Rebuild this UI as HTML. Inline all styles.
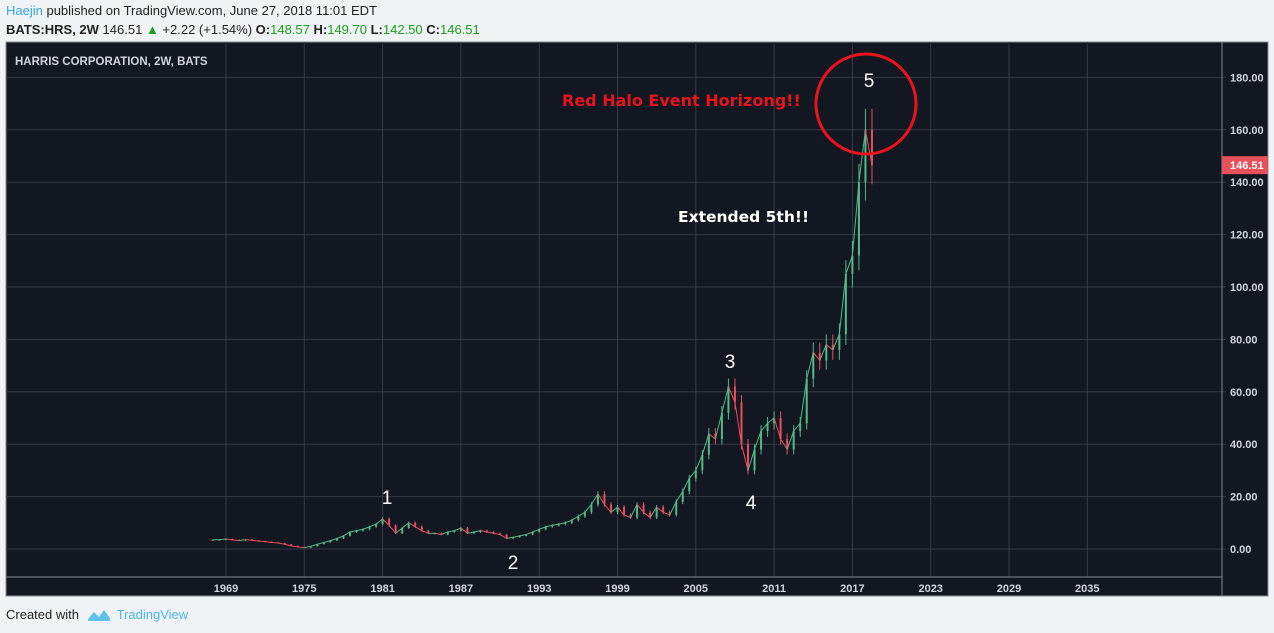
<!DOCTYPE html>
<html><head><meta charset="utf-8"><style>
body{margin:0;width:1274px;height:633px;background:#f0f3f6;font-family:"Liberation Sans",sans-serif;overflow:hidden;position:relative}
.t{position:absolute;white-space:nowrap}
</style></head><body>
<div class="t" style="left:6px;top:3px;font-size:13px;color:#222"><span style="color:#3ba4e0">Haejin</span> published on TradingView.com, June 27, 2018 11:01 EDT</div>
<div class="t" style="left:6px;top:22px;font-size:13px;color:#222"><b>BATS:HRS, 2W</b> 146.51 <span style="color:#19a019">▲</span> +2.22 (+1.54%) <b>O:</b><span style="color:#19a019">148.57</span> <b>H:</b><span style="color:#19a019">149.70</span> <b>L:</b><span style="color:#19a019">142.50</span> <b>C:</b><span style="color:#19a019">146.51</span></div>
<svg id="c" style="position:absolute;left:0;top:0" width="1274" height="633"></svg>
<div class="t" style="left:6px;top:607px;font-size:13px;color:#222">Created with <span style="color:#4fb3e0;margin-left:34px">TradingView</span></div>
<svg style="position:absolute;left:87px;top:606px" width="24" height="16"><path d="M1 13 L7 6 L12 11 L17 4 L23 12 L23 15 L1 15Z" fill="#5fc0ea"/></svg>
<script>
const years=[1969,1975,1981,1987,1993,1999,2005,2011,2017,2023,2029,2035];
const priceTicks=[0,20,40,60,80,100,120,140,160,180];
const times=[];for(let y=1968;y<=2018;y++){times.push(y);times.push(y+0.5);}
const closes=[3.5,3.6,3.8,3.5,3.2,3.6,3.3,3.0,2.8,2.5,2.3,1.8,1.2,0.8,0.5,1.0,1.8,2.5,3.2,4.0,5,6.5,7,7.5,8.5,9.5,11.5,9,6,8,10,8.5,7,6,6,5.5,6.5,7,8,6,6.5,7,6.5,6,5.5,4,4.5,5,5.5,6.5,7.5,8.5,9,9.5,10,11,12.5,14,17,21,17,14,16,13,12,17,14,12,16,14,13,18,22,27,30,36,44,42,52,62,56,40,30,38,45,48,50,42,38,45,48,65,75,72,78,76,82,105,112,140,160,146.51];
const last=146.51;
const svg=document.getElementById('c');const NS='http://www.w3.org/2000/svg';
function mk(t,a,txt){const e=document.createElementNS(NS,t);for(const k in a)e.setAttribute(k,a[k]);if(txt!==undefined)e.textContent=txt;svg.appendChild(e);return e;}
const X=t=>226+(t-1969)*13.05, Y=v=>549-v*2.62;
let e=mk('rect',{x:6,y:42,width:1262,height:554,fill:'#131722',stroke:'#868993'});

years.forEach(y=>{let g=mk('line',{x1:X(y),x2:X(y),y1:42,y2:577,stroke:'#363a45'});
let l=mk('text',{x:X(y),y:592,fill:'#d1d4dc','font-size':11,'font-weight':'bold','text-anchor':'middle'},y);});
priceTicks.forEach(v=>{let g=mk('line',{x1:6,x2:1226,y1:Y(v),y2:Y(v),stroke:'#363a45'});
let l=mk('text',{x:1230,y:Y(v)+4,fill:'#d1d4dc','font-size':11,'font-weight':'bold'},v.toFixed(2));});
e=mk('line',{x1:6,x2:1222,y1:577,y2:577,stroke:'#868993'});
e=mk('line',{x1:1222,x2:1222,y1:42,y2:596,stroke:'#868993'});
e=mk('text',{x:15,y:65,fill:'#d1d4dc','font-size':11.5,'font-weight':'bold'},'HARRIS CORPORATION, 2W, BATS');
for(let i=0;i<closes.length;i++){const o=i?closes[i-1]:closes[0],c=closes[i];const up=c>=o;const col=up?'#53b987':'#eb4d5c';
const hi=Math.max(o,c)*1.05,lo=Math.min(o,c)*0.95;const x=X(times[i]);
let w=mk('line',{x1:x,x2:x,y1:Y(hi),y2:Y(lo),stroke:col});
let b=mk('rect',{x:x-1,y:Y(Math.max(o,c)),width:2,height:Math.max(1,Math.abs(Y(o)-Y(c))),fill:col});
if(i){let s=mk('line',{x1:X(times[i-1]),x2:x,y1:Y(o),y2:Y(c),stroke:col,'stroke-width':1});}}
e=mk('rect',{x:1222,y:Y(last)-9,width:46,height:18,fill:'#e8505b'});
e=mk('text',{x:1230,y:Y(last)+4,fill:'#fff','font-size':11,'font-weight':'bold'},last.toFixed(2));
[['1',387,504,'wave-label-1'],['2',513,569,'wave-label-2'],['3',730,368,'wave-label-3'],['4',751,509,'wave-label-4'],['5',869,87,'wave-label-5']].forEach(a=>{let t=mk('text',{x:a[1],y:a[2],fill:'#fff','font-size':19,'text-anchor':'middle'},a[0]);});
e=mk('circle',{cx:866,cy:104,r:50,fill:'none',stroke:'#e8141c','stroke-width':3});
e=mk('text',{x:562,y:106,fill:'#e8141c','font-size':16,'font-weight':'bold','font-family':'DejaVu Sans'},'Red Halo Event Horizong!!');
e=mk('text',{x:678,y:222,fill:'#fff','font-size':15.5,'font-weight':'bold','font-family':'DejaVu Sans'},'Extended 5th!!');
</script>
</body></html>
